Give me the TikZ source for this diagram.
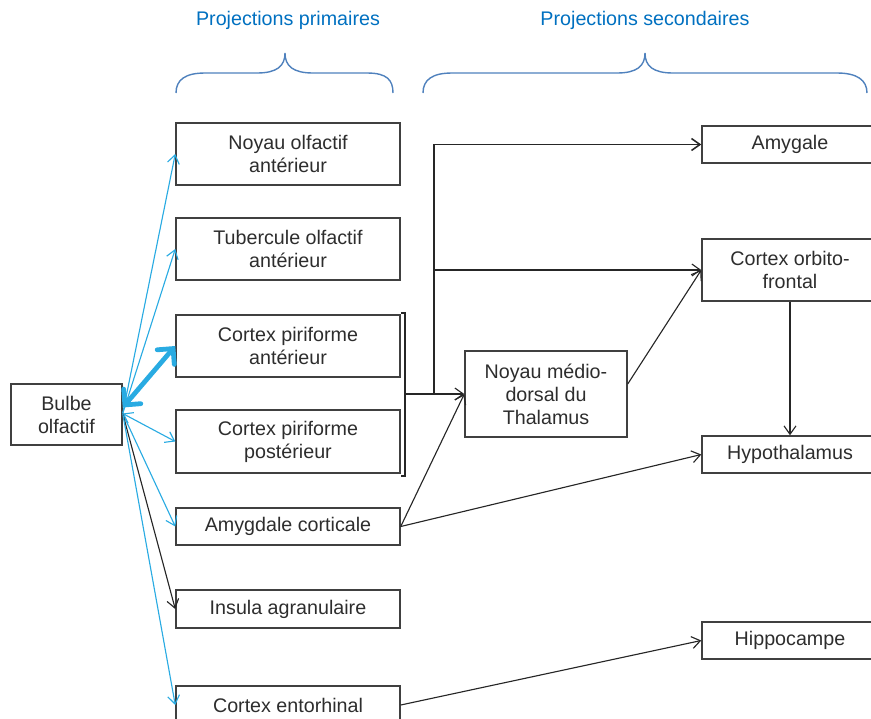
\documentclass[tikz,border=0pt]{standalone}
\usepackage{fontspec}
\setmainfont{Liberation Sans}
\usetikzlibrary{arrows.meta,calc}

\definecolor{bleutitre}{RGB}{0,112,192}
\definecolor{bleuaccol}{RGB}{79,129,189}
\definecolor{bleufleche}{RGB}{41,171,226}
\definecolor{grisbord}{RGB}{64,64,64}
\definecolor{gristexte}{RGB}{45,45,45}

\tikzset{
  boite/.style={draw=grisbord, line width=1pt, text=gristexte, align=center,
    inner sep=0pt, font=\fontsize{14}{16.3}\selectfont},
  prim/.style={boite, minimum width=5.6cm},
  sec/.style={boite, minimum width=4.4cm},
  titre/.style={text=bleutitre, font=\fontsize{14}{16.3}\selectfont},
  fl/.style={-{Straight Barb[length=6pt,width=8.5pt]}, line width=0.8pt, draw=black!85},
  flbleu/.style={fl, draw=bleufleche},
}

\begin{document}
\begin{tikzpicture}[x=0.025cm, y=-0.025cm]
  \useasboundingbox (0,0) rectangle (871,719);
  \clip (0,0) rectangle (871,719);

  % titres et accolades
  \node[titre] (tprim) at (288,20) {Projections primaires};
  \node[titre] (tsec) at (645,20) {Projections secondaires};
  \draw[bleuaccol, line width=1pt] (176,93) .. controls (176,80) and (185,73) .. (205,73) -- (257,73)
    .. controls (277,73) and (285,66) .. (285,53) .. controls (285,66) and (293,73) .. (313,73) -- (367,73)
    .. controls (387,73) and (393,80) .. (393,93);
  \draw[bleuaccol, line width=1pt] (423,93) .. controls (423,80) and (432,73) .. (452,73) -- (617,73)
    .. controls (637,73) and (645,66) .. (645,53) .. controls (645,66) and (653,73) .. (673,73) -- (837,73)
    .. controls (857,73) and (867,80) .. (867,93);

  % projections primaires
  \node[boite, minimum width=2.775cm, minimum height=1.525cm] (bulbe) at (66.5,414.5) {Bulbe\\olfactif};
  \node[prim, minimum height=1.55cm] (noyau) at (288,154) {Noyau olfactif\\antérieur};
  \node[prim, minimum height=1.55cm] (tubercule) at (288,249) {Tubercule olfactif\\antérieur};
  \node[prim, minimum height=1.55cm] (pirant) at (288,346) {Cortex piriforme\\antérieur};
  \node[prim, minimum height=1.575cm] (pirpost) at (288,441.5) {Cortex piriforme\\postérieur};
  \node[prim, minimum height=0.925cm] (amycort) at (288,526.5) {Amygdale corticale};
  \node[prim, minimum height=0.95cm] (insula) at (288,609) {Insula agranulaire};
  \node[prim, minimum height=0.95cm] (entorh) at (288,705) {Cortex entorhinal};

  % projections secondaires
  \node[boite, minimum width=4.05cm, minimum height=2.15cm] (mediodorsal) at (546,394) {Noyau médio-\\dorsal du\\Thalamus};
  \node[sec, minimum height=0.925cm] (amygale) at (790,144.5) {Amygale};
  \node[sec, minimum height=1.55cm] (orbito) at (790,270) {Cortex orbito-\\frontal};
  \node[sec, minimum height=0.925cm] (hypoth) at (790,454.5) {Hypothalamus};
  \node[sec, minimum height=0.925cm] (hippo) at (790,640.5) {Hippocampe};

  % liaisons du bulbe
  \coordinate (depart) at ($(bulbe.east)+(0,-1)$);
  \draw[flbleu] (depart) -- (noyau.west);
  \draw[flbleu] (depart) -- (tubercule.west);
  \draw[flbleu, {Straight Barb[length=6pt,width=8.5pt]}-{Straight Barb[length=6pt,width=8.5pt]}] (depart) -- (pirpost.west);
  \draw[flbleu] (depart) -- (amycort.west);
  \draw[fl] (depart) -- (insula.west);
  \draw[flbleu] (depart) -- (entorh.west);
  \draw[bleufleche, line width=3.4pt, line cap=round,
    {Straight Barb[length=8pt,width=16pt,line cap=round]}-{Straight Barb[length=8pt,width=16pt,line cap=round]}]
    ($(bulbe.east)+(0,-7)$) -- (pirant.west);

  % crochet du cortex piriforme
  \draw[black!85, line width=0.8pt] (401,313) -- (405,313) -- (405,476) -- (401,476);
  \coordinate (crochet) at (405,394);
  \coordinate (jonction) at (434,394);
  \draw[fl] (crochet) -- (mediodorsal.west);
  \draw[fl, line width=1.1pt] (jonction) |- (amygale.west);
  \draw[fl] (jonction |- orbito.west) -- (orbito.west);

  % liaisons secondaires
  \draw[fl] (amycort.east) -- (mediodorsal.west);
  \draw[fl] (amycort.east) -- (hypoth.west);
  \draw[fl] ($(mediodorsal.east)+(0,-10)$) -- (orbito.west);
  \draw[fl] (orbito.south) -- (hypoth.north);
  \draw[fl] (entorh.east) -- (hippo.west);
\end{tikzpicture}
\end{document}
